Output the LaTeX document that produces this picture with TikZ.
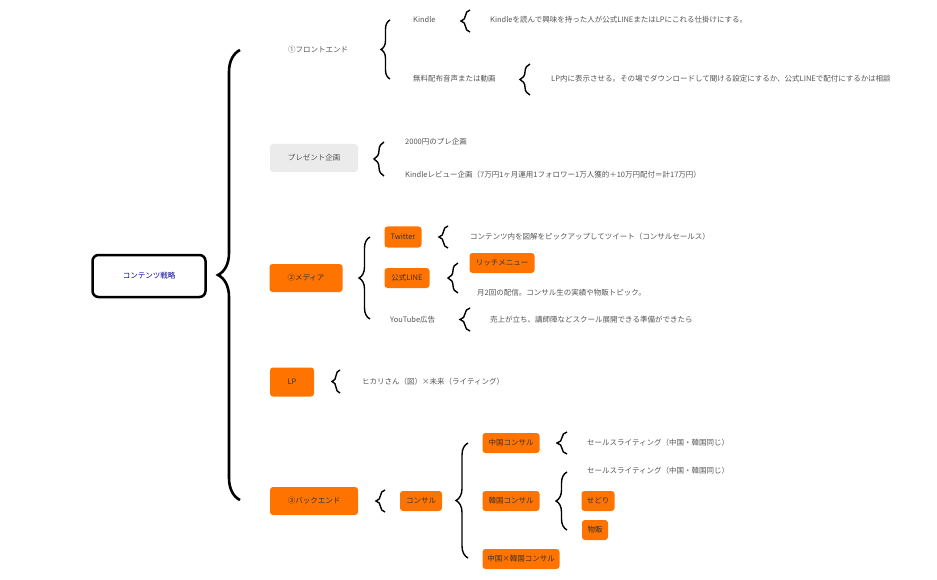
\documentclass[tikz,border=0pt]{standalone}
\usepackage{fontspec}
\setmainfont{Noto Sans CJK JP}
\usetikzlibrary{decorations.pathreplacing}
\definecolor{og}{HTML}{FF7300}
\definecolor{tx}{HTML}{555555}
\tikzset{ob/.style = {fill=og, rounded corners=3pt, inner sep=0pt, text=black!80, font=\fontsize{7.5}{8}\selectfont},
         tt/.style = {text=tx, inner sep=0pt, anchor=west, font=\fontsize{7.5}{9}\selectfont, align=left},
         br/.style = {decorate, decoration={brace, amplitude=#1}, line width=1.4pt}}
\newcommand{\brc}[4]{\draw[br=#4] (#1,#3) -- (#1,#2);}

\begin{document}
\begin{tikzpicture}[x=1pt, y=-1pt]
    \useasboundingbox (0,0) rectangle (937,580);
    \node[draw=black, line width=2.5pt, rounded corners=6pt, minimum width=113pt, minimum height=42pt, text=blue!60!black, font=\fontsize{7.5}{8}\selectfont] (root) at (149,276) {コンテンツ戦略};
    \draw[br=22, line width=2.6pt] (240,500) -- (240,50);
    % frontend
    \node[tt, anchor=center] (fe) at (318,50) {①フロントエンド};
    \brc{390}{20}{79}{9}
    \node[tt] (kd) at (413,20) {Kindle};
    \brc{470}{10}{32}{9}
    \node[tt] (kdt) at (490,20) {Kindleを読んで興味を持った人が公式LINEまたはLPにこれる仕掛けにする。};
    \node[tt] (mr) at (413,79) {無料配布音声または動画};
    \brc{530}{64}{95}{10}
    \node[tt, text width=262pt] (mrt) at (551,79) {LP内に表示させる。その場でダウンロードして聞ける設定にするか、公式LINEで配付にするかは相談};
    % present
    \node[ob, fill=black!8, text=tx, minimum width=88pt, minimum height=28pt] (pr) at (314,158) {プレゼント企画};
    \brc{384}{142}{176}{10}
    \node[tt] (pr1) at (405,142) {2000円のプレ企画};
    \node[tt, text width=286pt] (pr2) at (405,175) {Kindleレビュー企画（7万円1ヶ月運用1フォロワー1万人獲的＋10万円配付＝計17万円）};
    % media
    \node[ob, minimum width=73pt, minimum height=28pt] (md) at (306,278) {②メディア};
    \brc{370}{237}{319}{11}
    \node[ob, minimum width=37pt, minimum height=21pt] (tw) at (403,237) {Twitter};
    \brc{448}{226}{248}{9}
    \node[tt] (twt) at (470,237) {コンテンツ内を図解をピックアップしてツイート（コンサルセールス）};
    \node[ob, minimum width=45pt, minimum height=20pt] (ln) at (407,278) {公式LINE};
    \brc{458}{263}{293}{10}
    \node[ob, minimum width=65pt, minimum height=20pt] (rm) at (502,263) {リッチメニュー};
    \node[tt] (lnt) at (477,293) {月2回の配信。コンサル生の実績や物販トピック。};
    \node[tt] (yt) at (390,320) {YouTube広告};
    \brc{470}{308}{331}{10}
    \node[tt] (ytt) at (490,320) {売上が立ち、講師陣などスクール展開できる準備ができたら};
    % LP
    \node[ob, minimum width=44pt, minimum height=29pt] (lp) at (292,382) {LP};
    \brc{340}{370}{393}{8}
    \node[tt] (lpt) at (362,382) {ヒカリさん（図）×未来（ライティング）};
    % backend
    \node[ob, minimum width=88pt, minimum height=28pt] (be) at (314,501) {③バックエンド};
    \brc{385}{490}{512}{9}
    \node[ob, minimum width=42pt, minimum height=20pt] (cs) at (421,501) {コンサル};
    \brc{468}{443}{558}{12}
    \node[ob, minimum width=57pt, minimum height=20pt] (cn) at (511,443) {中国コンサル};
    \brc{567}{432}{454}{10}
    \node[tt] (cnt) at (587,443) {セールスライティング（中国・韓国同じ）};
    \node[ob, minimum width=57pt, minimum height=20pt] (kr) at (511,501) {韓国コンサル};
    \brc{567}{472}{530}{11}
    \node[tt] (krt) at (587,471) {セールスライティング（中国・韓国同じ）};
    \node[ob, minimum width=33pt, minimum height=20pt] (sd) at (598,501) {せどり};
    \node[ob, minimum width=26pt, minimum height=20pt] (bp) at (595,530) {物販};
    \node[ob, minimum width=77pt, minimum height=20pt] (ck) at (521,559) {中国×韓国コンサル};
\end{tikzpicture}
\end{document}
